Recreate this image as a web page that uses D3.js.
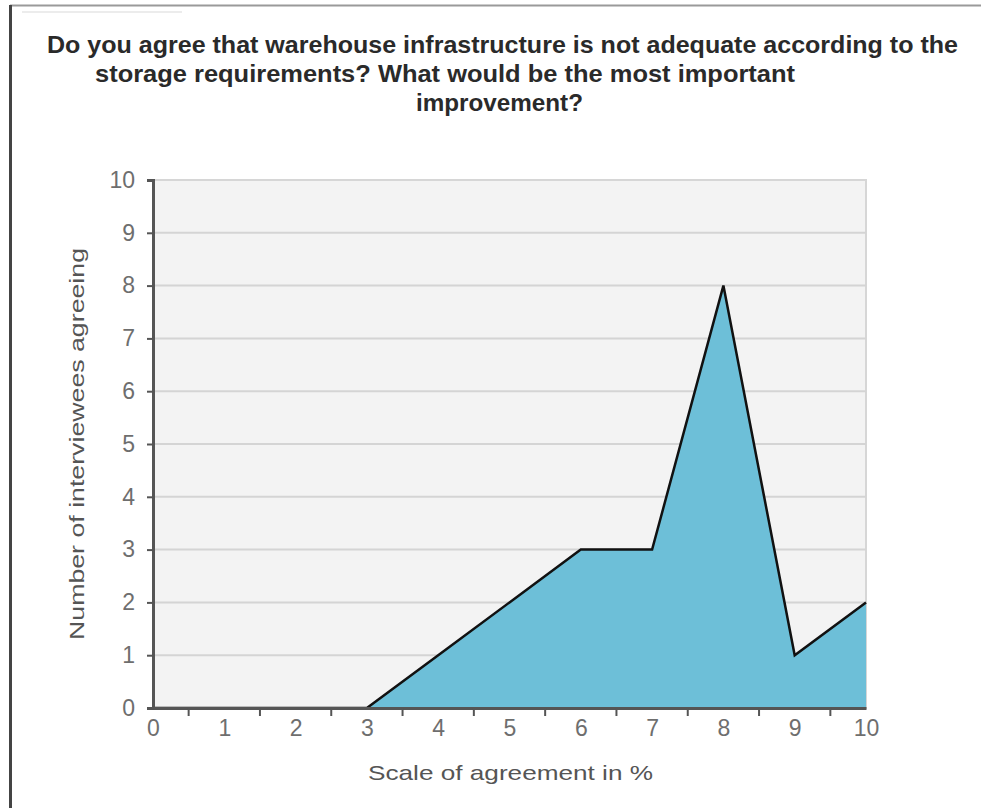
<!DOCTYPE html>
<html>
<head>
<meta charset="utf-8">
<script src="https://cdn.jsdelivr.net/npm/d3@7/dist/d3.min.js"></script>
<style>
  html, body { margin: 0; padding: 0; background: #fff; }
  svg { display: block; }
</style>
</head>
<body>
<svg id="chart" width="981" height="808"></svg>
<script>
// Survey responses: number of interviewees per agreement level
const scaleLevels = [0, 1, 2, 3, 4, 5, 6, 7, 8, 9, 10];
const interviewees = [0, 0, 0, 0, 1, 2, 3, 3, 8, 1, 2];
const yTicks = [0, 1, 2, 3, 4, 5, 6, 7, 8, 9, 10];
const titleLines = [
  "Do you agree that warehouse infrastructure is not adequate according to the",
  "storage requirements?  What would be the most important",
  "improvement?"
];
const xTitle = "Scale of agreement in %";
const yTitle = "Number of interviewees agreeing";

(function () {
  const svg = d3.select("#chart");
  const W = 981, H = 808;
  const labelFont = "'Liberation Sans', Arial, sans-serif";

  // Outer frame
  svg.append("line").attr("x1", 10).attr("x2", W).attr("y1", 5.5).attr("y2", 5.5)
    .attr("stroke", "#9a9a9a").attr("stroke-width", 2);
  svg.append("line").attr("x1", 10.5).attr("x2", 10.5).attr("y1", 5).attr("y2", H)
    .attr("stroke", "#444").attr("stroke-width", 3);
  svg.append("line").attr("x1", 22).attr("x2", 182).attr("y1", 12).attr("y2", 12)
    .attr("stroke", "#e6e6e6").attr("stroke-width", 1.5);

  // Title
  const titleSpec = [
    { x: 47, len: 911 },
    { x: 95, len: 700 },
    { x: 416, len: 167 }
  ];
  const title = svg.append("g").attr("font-family", "'Liberation Sans', Arial, sans-serif")
    .attr("font-weight", "bold").attr("font-size", 24).attr("fill", "#2a2a2a");
  titleLines.forEach((t, i) => {
    title.append("text")
      .attr("x", titleSpec[i].x).attr("y", 53 + i * 29)
      .attr("textLength", titleSpec[i].len).attr("lengthAdjust", "spacingAndGlyphs")
      .text(t);
  });

  // Plot area
  const pl = 153, pr = 866, pt = 180, pb = 708;
  const x = d3.scaleLinear().domain([0, 10]).range([pl, pr]);
  const y = d3.scaleLinear().domain([0, 10]).range([pb, pt]);

  svg.append("rect").attr("x", pl).attr("y", pt)
    .attr("width", pr - pl).attr("height", pb - pt)
    .attr("fill", "#f3f3f3").attr("stroke", "#d6d6d6").attr("stroke-width", 2);

  // Horizontal gridlines
  svg.append("g").selectAll("line").data(yTicks.filter(d => d > 0 && d < 10)).join("line")
    .attr("x1", pl).attr("x2", pr)
    .attr("y1", d => y(d)).attr("y2", d => y(d))
    .attr("stroke", "#d4d4d4").attr("stroke-width", 2);

  // Filled area with outline
  const area = d3.area()
    .x((d, i) => x(scaleLevels[i]))
    .y0(y(0))
    .y1(d => y(d));
  const line = d3.line()
    .x((d, i) => x(scaleLevels[i]))
    .y(d => y(d));

  svg.append("path").datum(interviewees)
    .attr("d", area).attr("fill", "#6dbfd8");
  svg.append("path").datum(interviewees)
    .attr("d", line).attr("fill", "none")
    .attr("stroke", "#111").attr("stroke-width", 2.5).attr("stroke-linejoin", "miter");

  // Y axis
  const yAxis = d3.axisLeft(y).tickValues(yTicks).tickSize(6).tickPadding(12)
    .tickFormat(d3.format("d"));
  const gy = svg.append("g").attr("transform", `translate(${pl},0)`).call(yAxis);
  gy.select(".domain").attr("stroke", "#555").attr("stroke-width", 3);
  gy.selectAll(".tick line").attr("stroke", "#555").attr("stroke-width", 2);
  gy.selectAll(".tick text").attr("font-family", labelFont)
    .attr("font-size", 23).attr("fill", "#6e6e6e");

  // X axis: labels at integers, tick marks at the half steps between them
  const xAxis = d3.axisBottom(x).tickValues(scaleLevels).tickSize(0).tickPadding(12)
    .tickFormat(d3.format("d"));
  const gx = svg.append("g").attr("transform", `translate(0,${pb})`).call(xAxis);
  gx.select(".domain").attr("stroke", "#555").attr("stroke-width", 3);
  gx.selectAll(".tick text").attr("font-family", labelFont)
    .attr("font-size", 23).attr("fill", "#6e6e6e");
  svg.append("g").selectAll("line").data(scaleLevels.slice(0, -1)).join("line")
    .attr("x1", d => x(d + 0.5)).attr("x2", d => x(d + 0.5))
    .attr("y1", pb).attr("y2", pb + 8)
    .attr("stroke", "#555").attr("stroke-width", 2);

  // Axis titles
  svg.append("text")
    .attr("x", (pl + pr) / 2 + 1).attr("y", 780)
    .attr("text-anchor", "middle")
    .attr("font-family", labelFont)
    .attr("font-size", 21).attr("fill", "#555")
    .attr("textLength", 285).attr("lengthAdjust", "spacingAndGlyphs")
    .text(xTitle);
  svg.append("text")
    .attr("transform", `translate(84,${(pt + pb) / 2}) rotate(-90)`)
    .attr("text-anchor", "middle")
    .attr("font-family", labelFont)
    .attr("font-size", 21).attr("fill", "#555")
    .attr("textLength", 392).attr("lengthAdjust", "spacingAndGlyphs")
    .text(yTitle);
})();
</script>
</body>
</html>
